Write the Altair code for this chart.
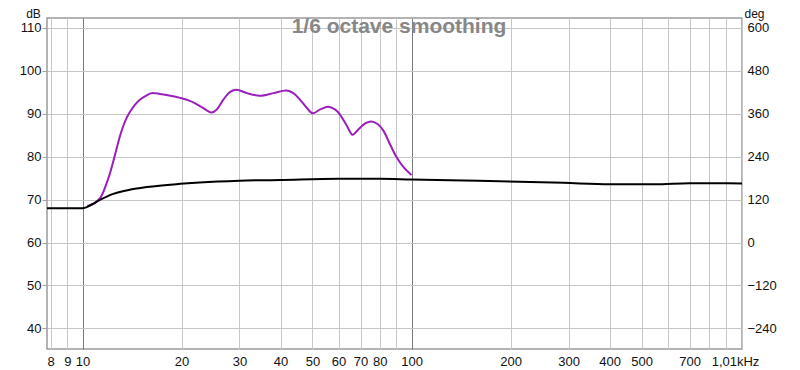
import altair as alt
import pandas as pd

# Magnitude trace (purple), dB on left axis
mag_freq = [10.35, 10.8, 11.32, 11.72, 12.14, 12.57, 13.02, 13.48, 13.96, 14.45,
            14.96, 15.67, 16.25, 17.2, 18.5, 19.8, 21.2, 22.75, 23.85, 24.7, 25.6,
            26.8, 28.1, 29.4, 31.6, 34.6, 38.0, 41.7, 43.7, 45.8, 48.0, 50.0, 52.8,
            55.8, 58.5, 60.6, 63.6, 66.2, 69.0, 72.5, 75.5, 79.2, 82.2, 86.0, 90.0,
            94.4, 100.0]
mag_db = [68.5, 69.0, 70.4, 72.9, 76.3, 80.6, 85.0, 88.3, 90.5, 92.1,
          93.3, 94.3, 94.8, 94.6, 94.2, 93.7, 93.0, 91.8, 90.8, 90.3, 91.0,
          93.3, 95.1, 95.6, 94.8, 94.2, 94.8, 95.4, 94.8, 93.3, 91.4, 90.1, 91.0,
          91.6, 91.0, 89.8, 87.2, 85.1, 86.4, 87.8, 88.2, 87.5, 86.0, 82.9, 79.9,
          77.6, 75.7]

# Second trace (black), deg on right axis
ph_freq = [7.8, 10.0, 10.7, 11.3, 12.4, 14.0, 15.7, 19.8, 22.7, 30.0, 40.0, 60.0,
           80.0, 100.0, 160.0, 290.0, 400.0, 550.0, 700.0, 1010.0]
ph_deg = [96, 96, 107, 119, 136, 148, 155, 164, 168, 173, 175, 178,
          178, 176, 173, 167, 163, 163, 166, 165]

x_ticks = [8, 9, 10, 20, 30, 40, 50, 60, 70, 80, 90, 100, 200, 300, 400, 500,
           600, 700, 800, 900, 1010]
x_tick_labels = ["8", "9", "10", "20", "30", "40", "50", "60", "70", "80", "",
                 "100", "200", "300", "400", "500", "", "700", "", "", "1,01kHz"]
db_ticks = [40, 50, 60, 70, 80, 90, 100, 110]
deg_ticks = [-240, -120, 0, 120, 240, 360, 480, 600]
chart_title = "1/6 octave smoothing"

mag = pd.DataFrame({"f": mag_freq, "db": mag_db})
ph = pd.DataFrame({"f": ph_freq, "deg": ph_deg})
ttl = pd.DataFrame({"t": [chart_title]})

label_expr = "''"
for v, t in reversed(list(zip(x_ticks, x_tick_labels))):
    label_expr = f"datum.value == {v} ? '{t}' : ({label_expr})"

FONT = "Liberation Sans"

xscale = alt.Scale(type="log", domain=[7.8, 1010], nice=False)
xaxis = alt.Axis(
    values=x_ticks, labelExpr=label_expr, title=None, grid=True,
    gridColor={"condition": {"test": "datum.value == 10 || datum.value == 100",
                             "value": "#7a7a7a"}, "value": "#c6c6c6"},
    ticks=False, domain=False, labelFlush=False, labelOverlap=False,
    labelPadding=6,
    labelOffset={"condition": {"test": "datum.value > 1000", "value": -7}, "value": 0},
)

purple = alt.Chart(mag).mark_line(color="#9a1fbd", strokeWidth=2,
                                   interpolate="catmull-rom").encode(
    x=alt.X("f:Q", scale=xscale, axis=xaxis),
    y=alt.Y("db:Q",
            scale=alt.Scale(domain=[35.2, 112.3], nice=False, zero=False),
            axis=alt.Axis(values=db_ticks, title="dB", titleAngle=0,
                          titleX=-14, titleY=-1, titleAlign="center",
                          titleBaseline="alphabetic", tickSize=5,
                          tickColor="#a0a0a0", gridColor="#c6c6c6",
                          domain=False, labelPadding=1)),
)

black = alt.Chart(ph).mark_line(color="#000000", strokeWidth=2,
                                 interpolate="monotone").encode(
    x=alt.X("f:Q", scale=xscale, axis=xaxis),
    y=alt.Y("deg:Q",
            scale=alt.Scale(domain=[-297.6, 627.6], nice=False, zero=False),
            axis=alt.Axis(orient="right", values=deg_ticks, title="deg",
                          titleAngle=0, titleX=12, titleY=-1,
                          titleAlign="center", titleBaseline="alphabetic",
                          grid=False, ticks=False, domain=False,
                          labelPadding=5)),
)

title_text = alt.Chart(ttl).mark_text(
    font=FONT, fontSize=21, fontWeight="bold", color="#878787",
    align="center", baseline="alphabetic",
).encode(text="t:N", x=alt.value(352), y=alt.value(15))

chart = alt.layer(purple, black, title_text).resolve_scale(y="independent").properties(
    width=695, height=331,
    padding={"left": 39, "top": 10, "right": 50, "bottom": 20},
    autosize=alt.AutoSizeParams(type="none"),
    background="white",
).configure_view(
    stroke="#9a9a9a", strokeWidth=1.5
).configure_axis(
    labelFont=FONT, labelFontSize=13, labelColor="#111111",
    titleFont=FONT, titleFontSize=12, titleFontWeight="normal", titleColor="#111111",
)

chart.save("out.html", embed_options={"renderer": "svg", "actions": False})
